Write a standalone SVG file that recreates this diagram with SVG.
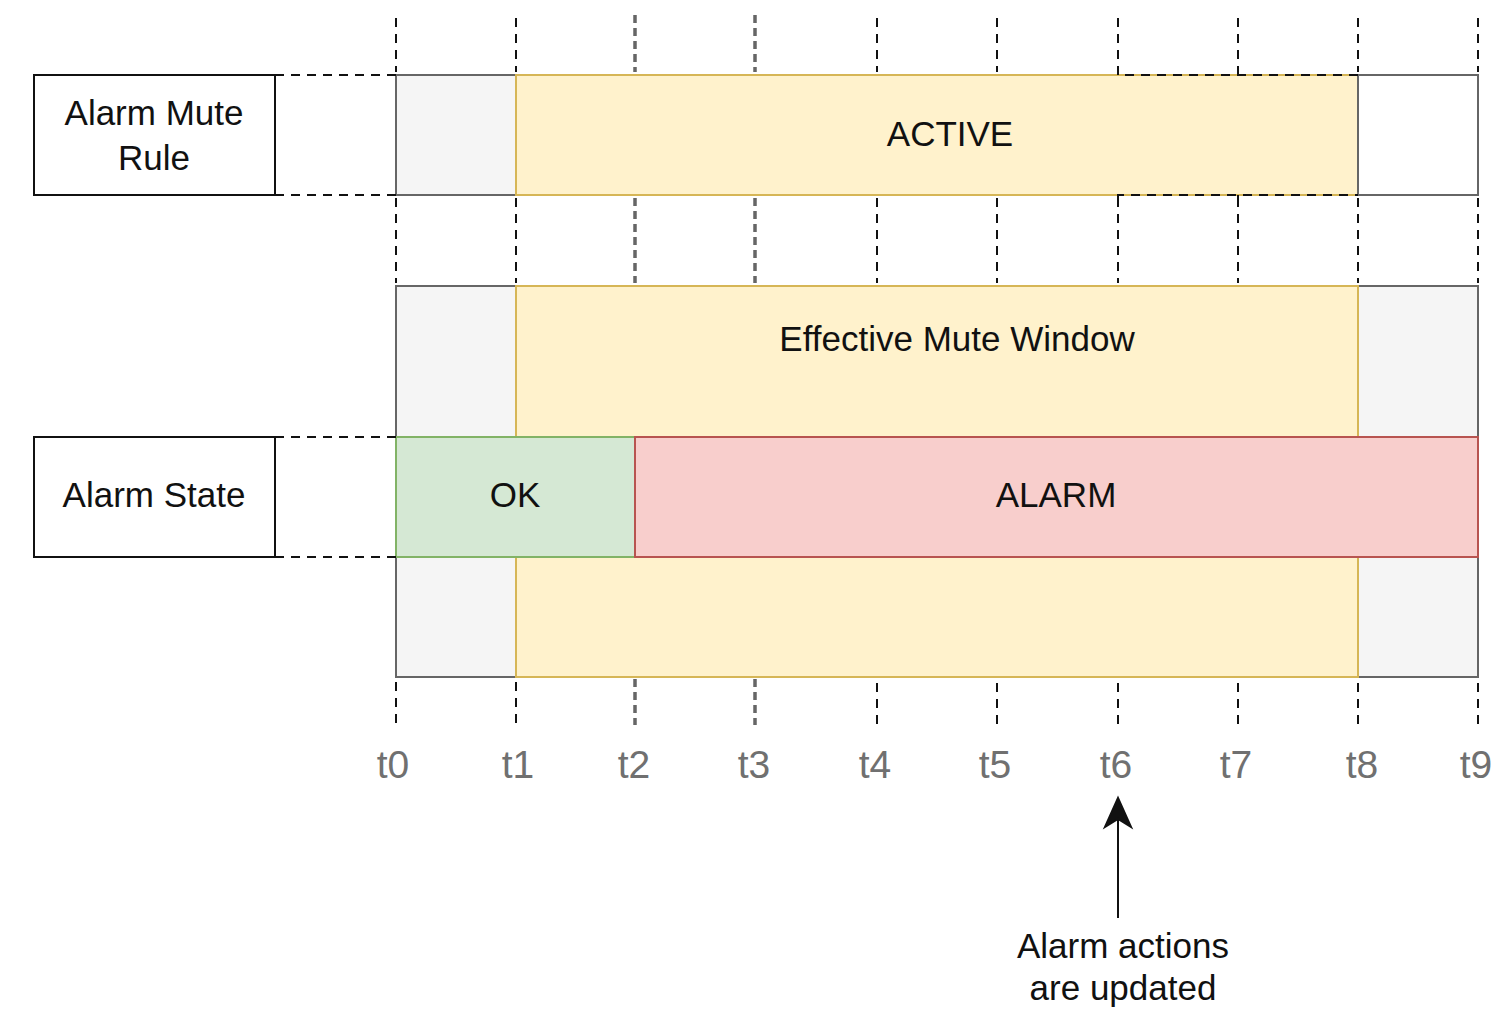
<svg xmlns="http://www.w3.org/2000/svg" width="1508" height="1024" viewBox="0 0 1508 1024">
<style>
text{font-family:"Liberation Sans",Arial,Helvetica,sans-serif;font-size:35px;fill:#111;text-anchor:middle}
.tl{font-size:39px;fill:#707070}
.lbl{fill:#fff;stroke:#111;stroke-width:2}
.gray{fill:#f5f5f5;stroke:#666;stroke-width:2}
.wht{fill:#fff;stroke:#666;stroke-width:2}
.yel{fill:#fff2cc;stroke:#d6b656;stroke-width:2}
.grn{fill:#d5e8d4;stroke:#82b366;stroke-width:2}
.red{fill:#f8cecc;stroke:#b85450;stroke-width:2}
.d{fill:none;stroke:#111;stroke-width:2;stroke-dasharray:9 7}
.dg{fill:none;stroke:#666;stroke-width:3.5;stroke-dasharray:8 5}
</style>
<rect width="1508" height="1024" fill="#fff"/>

<g id="rule-label">
<rect class="lbl" x="34" y="75" width="241" height="120"/>
<text x="154" y="125">Alarm Mute</text>
<text x="154" y="170">Rule</text>
</g>
<g id="rule-before"><rect class="gray" x="396" y="75" width="120" height="120"/></g>
<g id="rule-active">
<rect class="yel" x="516" y="75" width="842" height="120"/>
<text x="950" y="146">ACTIVE</text>
</g>
<g id="rule-after"><rect class="wht" x="1358" y="75" width="120" height="120"/></g>

<g id="window-before"><rect class="gray" x="396" y="286" width="120" height="391"/></g>
<g id="window-after"><rect class="gray" x="1358" y="286" width="120" height="391"/></g>
<g id="window">
<rect class="yel" x="516" y="286" width="842" height="391"/>
<text x="957" y="351">Effective Mute Window</text>
</g>

<g id="state-label">
<rect class="lbl" x="34" y="437" width="241" height="120"/>
<text x="154" y="507">Alarm State</text>
</g>
<g id="state-ok">
<rect class="grn" x="396" y="437" width="239" height="120"/>
<text x="515" y="507">OK</text>
</g>
<g id="state-alarm">
<rect class="red" x="635" y="437" width="843" height="120"/>
<text x="1056" y="507">ALARM</text>
</g>

<g id="connectors">
<path class="d" d="M275 75H396M275 195H396M275 437H396M275 557H396"/>
<path class="d" d="M1118 18V75H1358M1238 18V75M1118 198V195H1358M1238 198V195"/>
<path class="d" d="M396 18V72M396 198V283M396 682V730"/>
<path class="d" d="M516 18V72M516 198V283M516 682V730"/>
<path class="dg" d="M635 15V72M635 198V283M635 679V725"/>
<path class="dg" d="M755 15V72M755 198V283M755 679V725"/>
<path class="d" d="M877 18V72M877 198V283M877 683V730"/>
<path class="d" d="M997 18V72M997 198V283M997 683V730"/>
<path class="d" d="M1118 198V283M1118 683V730"/>
<path class="d" d="M1238 198V283M1238 683V730"/>
<path class="d" d="M1358 18V72M1358 198V283M1358 683V730"/>
<path class="d" d="M1478 18V72M1478 198V283M1478 683V730"/>
<path d="M1118 918V815" stroke="#111" stroke-width="2" fill="none"/>
<path d="M1118 798L1131 827L1118 819L1105 827Z" fill="#111" stroke="#111" stroke-width="2"/>
</g>

<g id="ticks">
<text class="tl" x="393" y="778">t0</text>
<text class="tl" x="518" y="778">t1</text>
<text class="tl" x="634" y="778">t2</text>
<text class="tl" x="754" y="778">t3</text>
<text class="tl" x="875" y="778">t4</text>
<text class="tl" x="995" y="778">t5</text>
<text class="tl" x="1116" y="778">t6</text>
<text class="tl" x="1236" y="778">t7</text>
<text class="tl" x="1362" y="778">t8</text>
<text class="tl" x="1476" y="778">t9</text>
</g>

<g id="note">
<text x="1123" y="958">Alarm actions</text>
<text x="1123" y="1000">are updated</text>
</g>
</svg>
